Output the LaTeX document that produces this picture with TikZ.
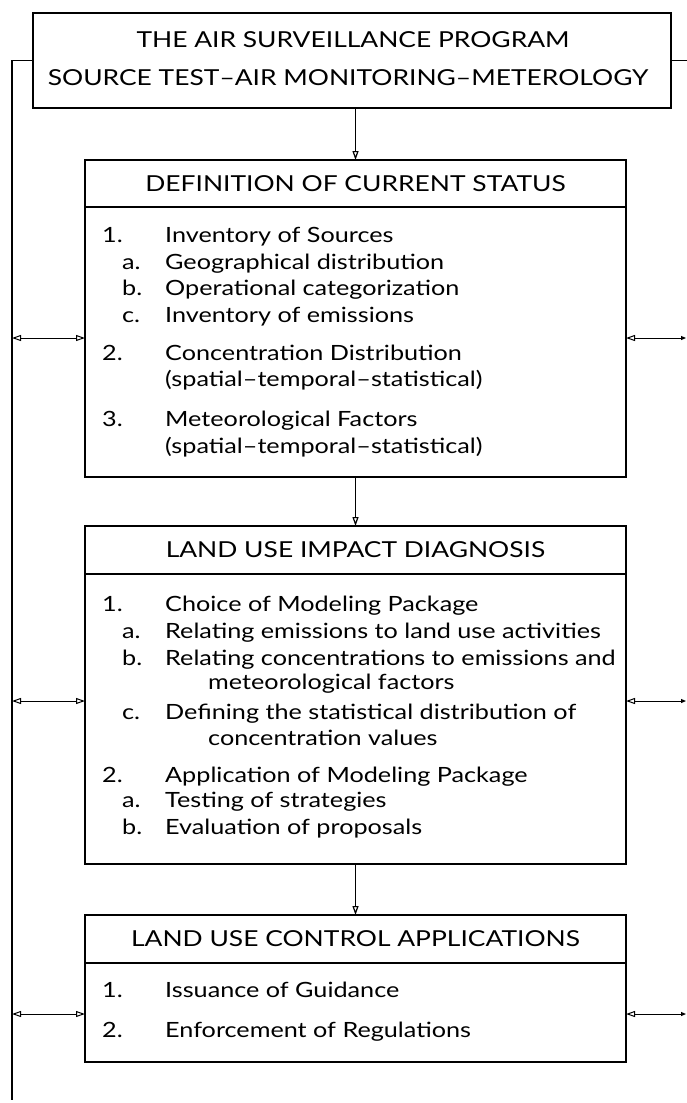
\documentclass[tikz,border=0pt]{standalone}
\usepackage{fontspec}
\setmainfont[FakeStretch=1.2]{Lato}
\usetikzlibrary{arrows.meta}
\begin{document}
\begin{tikzpicture}[x=1pt,y=-1pt,
  frame/.style={draw, line width=1.3pt, inner sep=0pt, outer sep=0pt, minimum width=541pt},
  ln/.style={line width=1.2pt},
  txt/.style={anchor=base west, inner sep=0pt, font=\fontsize{21}{25}\selectfont},
  hdtxt/.style={font=\fontsize{22}{26}\selectfont},
  toptxt/.style={inner sep=0pt, font=\fontsize{22}{26}\selectfont},
  down/.style={ln, -{Triangle[open,length=9pt,width=6pt]}},
  both/.style={line width=1pt, {Triangle[open,length=9pt,width=6pt]}-{Triangle[open,length=9pt,width=6pt]}},
  rboth/.style={line width=1pt, {Triangle[open,length=9pt,width=6pt]}-{Triangle[length=5pt,width=4pt]}},
]
\useasboundingbox (0,0) rectangle (687,1103);
\fill[white] (0,0) rectangle (687,1103);

% top box
\node[frame, minimum width=638pt, minimum height=95pt] (top) at (352,60.5) {};
\node[toptxt] (t1) at (353,40) {THE AIR SURVEILLANCE PROGRAM};
\node[toptxt] (t2) at (348,78) {SOURCE TEST--AIR MONITORING--METEROLOGY};

% definition box
\node[frame, minimum height=47pt, hdtxt] (dh) at (355.5,183.5) {DEFINITION OF CURRENT STATUS};
\node[frame, minimum height=270pt] (db) at (355.5,342) {};
% land use box
\node[frame, minimum height=48pt, hdtxt] (lh) at (355.5,550) {LAND USE IMPACT DIAGNOSIS};
\node[frame, minimum height=290pt] (lb) at (355.5,719) {};
% control box
\node[frame, minimum height=48pt, hdtxt] (ch) at (355.5,939) {LAND USE CONTROL APPLICATIONS};
\node[frame, minimum height=99pt] (cb) at (355.5,1012.5) {};

% definition items
\node[txt] (d1n) at (102,242) {1.};
\node[txt] (d1t) at (165,242) {Inventory of Sources};
\node[txt] (dan) at (122,269) {a.};
\node[txt] (dat) at (165,269) {Geographical distribution};
\node[txt] (dbn) at (122,295) {b.};
\node[txt] (dbt) at (165,295) {Operational categorization};
\node[txt] (dcn) at (122,322) {c.};
\node[txt] (dct) at (165,322) {Inventory of emissions};
\node[txt] (d2n) at (102,360) {2.};
\node[txt] (d2t) at (165,360) {Concentration Distribution};
\node[txt] (d2s) at (165,386) {(spatial--temporal--statistical)};
\node[txt] (d3n) at (102,426) {3.};
\node[txt] (d3t) at (165,426) {Meteorological Factors};
\node[txt] (d3s) at (165,453) {(spatial--temporal--statistical)};

% land use items
\node[txt] (l1n) at (102,611) {1.};
\node[txt] (l1t) at (165,611) {Choice of Modeling Package};
\node[txt] (lan) at (122,638) {a.};
\node[txt] (lat) at (165,638) {Relating emissions to land use activities};
\node[txt] (lbn) at (122,665) {b.};
\node[txt] (lbt) at (165,665) {Relating concentrations to emissions and};
\node[txt] (lbs) at (208,689) {meteorological factors};
\node[txt] (lcn) at (122,719) {c.};
\node[txt] (lct) at (165,719) {Defining the statistical distribution of};
\node[txt] (lcs) at (208,745) {concentration values};
\node[txt] (l2n) at (102,782) {2.};
\node[txt] (l2t) at (165,782) {Application of Modeling Package};
\node[txt] (l2an) at (122,807) {a.};
\node[txt] (l2at) at (165,807) {Testing of strategies};
\node[txt] (l2bn) at (122,834) {b.};
\node[txt] (l2bt) at (165,834) {Evaluation of proposals};

% control items
\node[txt] (c1n) at (102,997) {1.};
\node[txt] (c1t) at (165,997) {Issuance of Guidance};
\node[txt] (c2n) at (102,1037) {2.};
\node[txt] (c2t) at (165,1037) {Enforcement of Regulations};

% outer connectors
\coordinate (lc) at (12,60.5);
\coordinate (lend) at (12,1100);
\coordinate (rc) at (687,60.5);
\draw[ln] (top.west) -- (lc) -- (lend);
\draw[ln] (top.east) -- (rc);

% down arrows
\draw[down] (top.south -| dh.north) -- (dh.north);
\draw[down] (db.south) -- (lh.north);
\draw[down] (lb.south) -- (ch.north);

% side arrows
\coordinate (a1) at (12,338);
\coordinate (a2) at (12,701);
\coordinate (a3) at (12,1014);
\coordinate (r1) at (686,338);
\coordinate (r2) at (686,701);
\coordinate (r3) at (686,1014);
\draw[both] (a1) -- (a1 -| db.west);
\draw[both] (a2) -- (a2 -| lb.west);
\draw[both] (a3) -- (a3 -| cb.west);
\draw[rboth] (r1 -| db.east) -- (r1);
\draw[rboth] (r2 -| lb.east) -- (r2);
\draw[rboth] (r3 -| cb.east) -- (r3);
\end{tikzpicture}
\end{document}
